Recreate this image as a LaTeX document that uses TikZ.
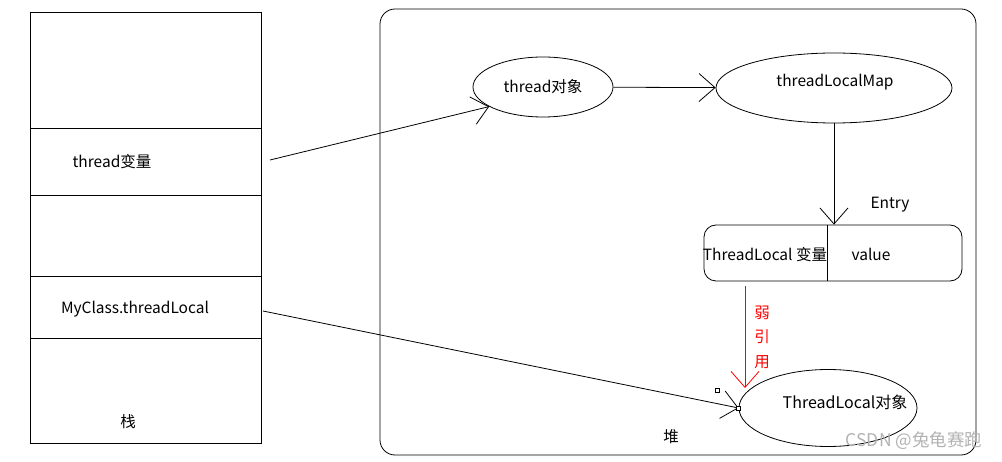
\documentclass[tikz,border=0pt]{standalone}
\usepackage{fontspec}
\setmainfont{Noto Sans CJK SC}
\usetikzlibrary{arrows.meta,positioning,shapes.geometric}

\begin{document}
\begin{tikzpicture}[x=1pt, y=-1pt, line width=0.8pt,
        font=\fontsize{15.5}{18}\selectfont,
        obj/.style={draw, ellipse, inner sep=0pt},
        ref/.style={-{Straight Barb[length=16pt, width=28pt, line width=0.8pt]}},
        handle/.style={draw, fill=white, line width=0.6pt, minimum size=4pt, inner sep=0pt}]
        \useasboundingbox (0, 0) rectangle (1002, 462);

        % stack
        \draw (30, 12) rectangle (261, 443);
        \draw (30, 128) -- (261, 128);
        \draw (30, 195) -- (261, 195);
        \draw (30, 276) -- (261, 276);
        \draw (30, 338) -- (261, 338);
        \node (threadvar) at (112, 162) {thread变量};
        \node (tlfield) at (135, 309) {MyClass.threadLocal};
        \node (stack) at (128, 422) {栈};
        \coordinate (threadvar out) at (270, 160);
        \coordinate (tlfield out) at (263, 311);

        % heap
        \draw[rounded corners=15pt] (380, 9) rectangle (976, 455);
        \node (heap) at (671, 437) {堆};

        \node[obj, minimum width=140pt, minimum height=60pt] (thread) at (543, 87) {thread对象};
        \node[obj, minimum width=236pt, minimum height=70pt] (map) at (834, 88) {};
        \node (map label) at (835, 82) {threadLocalMap};

        \node[draw, rounded corners=12pt, minimum width=258pt, minimum height=56pt] (entry) at (833, 253) {};
        \draw (827, 225) -- (827, 281);
        \node (tlkey) at (765, 255) {ThreadLocal 变量};
        \node (value) at (871, 254) {value};
        \node (entry label) at (890, 205) {Entry};

        \node[obj, minimum width=178pt, minimum height=77pt] (tlobj) at (828, 408) {};
        \node[font=\fontsize{16}{18}\selectfont] (tlobj label) at (845, 402) {ThreadLocal对象};
        \coordinate (weak from) at (745, 286);
        \coordinate (weak to) at (745, 388);

        % references
        \draw[ref] (threadvar out) -- (thread.200);
        \draw[ref] (thread) -- (map);
        \draw[ref] (map.south) -- (map.south |- entry.north);
        \draw[ref, red] (weak from) -- (weak to);
        \node[red, align=center, font=\fontsize{15.5}{24.5}\selectfont] (weak) at (762, 337) {弱\\引\\用};
        \draw[ref] (tlfield out) -- (tlobj.west);
        \node[handle] at (717, 390) {};
        \node[handle] at (tlobj.west) {};

        \node[gray!60, font=\fontsize{17.5}{20}\selectfont] (mark) at (914, 441) {CSDN @兔龟赛跑};
\end{tikzpicture}
\end{document}
